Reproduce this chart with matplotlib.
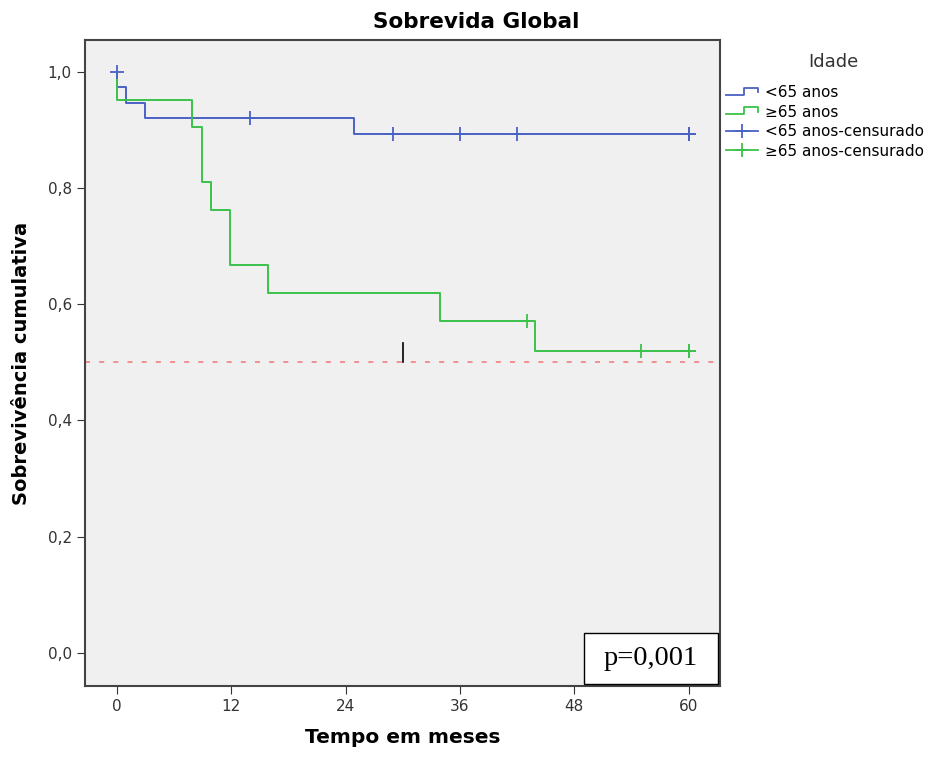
import numpy as np
import matplotlib.pyplot as plt
from matplotlib.legend_handler import HandlerBase
from matplotlib.lines import Line2D
from matplotlib.patches import Rectangle

# Kaplan-Meier steps
young_t = [0, 0, 0.9, 2.9, 24.9, 60]
young_s = [1.0, 0.974, 0.947, 0.921, 0.894, 0.894]
young_cens_t = [0, 14, 29, 36, 42, 60, 60]
young_cens_s = [1.0, 0.921, 0.894, 0.894, 0.894, 0.894, 0.894]

old_t = [0, 0, 7.9, 8.9, 9.9, 11.9, 15.9, 33.9, 43.9, 60]
old_s = [1.0, 0.952, 0.905, 0.810, 0.762, 0.667, 0.619, 0.571, 0.519, 0.519]
old_cens_t = [43, 55, 60, 60]
old_cens_s = [0.571, 0.519, 0.519, 0.519]

xticks = [0, 12, 24, 36, 48, 60]
yticks = [0.0, 0.2, 0.4, 0.6, 0.8, 1.0]
labels = ["<65 anos", "≥65 anos", "<65 anos-censurado", "≥65 anos-censurado"]

blue = "#4a62c4"
green = "#3cc24a"


class StepHandler(HandlerBase):
    def create_artists(self, legend, orig, xd, yd, w, h, fontsize, trans):
        x = [0, w * 0.55, w * 0.55, w, w]
        y = [h * 0.2, h * 0.2, h * 0.85, h * 0.85, h * 0.45]
        ln = Line2D(np.array(x) - xd, np.array(y) - yd, color=orig.get_color(), lw=1.3)
        ln.set_transform(trans)
        return [ln]


def main():
    fig = plt.figure(figsize=(9.36, 7.6), dpi=100)
    ax = fig.add_axes([0.0908, 0.0974, 0.678, 0.85])
    ax.set_facecolor("#f0f0f0")

    l1, = ax.step(young_t, young_s, where="post", color=blue, lw=1.4)
    l2, = ax.step(old_t, old_s, where="post", color=green, lw=1.4)
    ax.plot(young_cens_t, young_cens_s, ls="none", marker="+", ms=10,
            mew=1.3, color=blue)
    ax.plot(old_cens_t, old_cens_s, ls="none", marker="+", ms=10,
            mew=1.3, color=green)

    ax.axhline(0.5, color="#f08080", ls=(0, (3, 5.5)), lw=1.2)
    ax.plot([30, 30], [0.5, 0.534], color="black", lw=1.2)

    ax.set_xlim(-3.36, 63.25)
    ax.set_ylim(-0.057, 1.055)
    ax.set_xticks(xticks)
    ax.set_yticks(yticks)
    ax.set_yticklabels([("%.1f" % v).replace(".", ",") for v in yticks])
    ax.tick_params(labelsize=11, colors="#333333", length=6)
    for s in ax.spines.values():
        s.set_color("#444444")
        s.set_linewidth(1.5)

    fig.text(476 / 936, 1 - 22 / 760, "Sobrevida Global", size=15.5,
             weight="bold", ha="center", va="center")
    ax.set_xlabel("Tempo em meses", size=14.5, weight="bold", labelpad=10)
    ax.set_ylabel("Sobrevivência cumulativa", size=14, weight="bold", labelpad=12)

    ax.add_patch(Rectangle((0.787, 0.003), 0.21, 0.079, transform=ax.transAxes,
                           fc="white", ec="black", lw=1, zorder=5))
    ax.text(0.892, 0.043, "p=0,001", transform=ax.transAxes, ha="center",
            va="center", family="Liberation Serif", size=20.5, zorder=6)

    # legend: title as separate text so the gap matches
    fig.text(833 / 936, 1 - 62 / 760, "Idade", size=13, color="#333333",
             ha="center", va="center")
    c1 = Line2D([], [], color=blue, lw=1.3, marker="+", ms=10, mew=1.3)
    c2 = Line2D([], [], color=green, lw=1.3, marker="+", ms=10, mew=1.3)
    fig.legend([l1, l2, c1, c2], labels,
               handler_map={l1: StepHandler(), l2: StepHandler()},
               loc="upper left", bbox_to_anchor=(726 / 936, 1 - 85 / 760),
               frameon=False, fontsize=11, borderpad=0, borderaxespad=0,
               handlelength=2.1, handletextpad=0.45, labelspacing=0.3)

    plt.savefig("out.png")
    plt.close()


if (__name__ == "__main__"):
    main()
